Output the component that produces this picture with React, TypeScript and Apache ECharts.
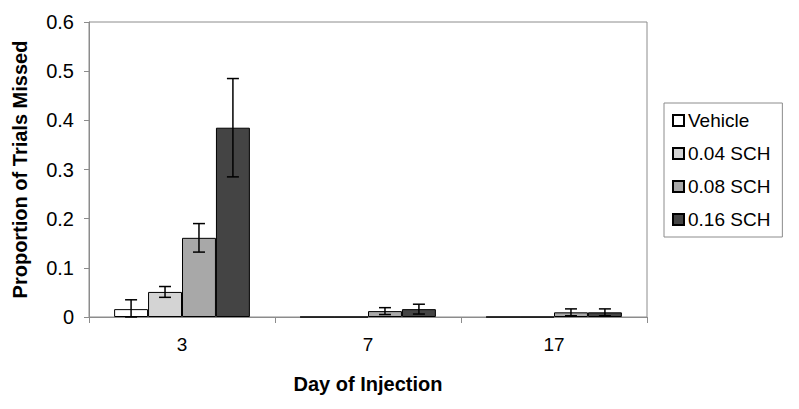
import React, { useEffect, useRef } from "react";
import * as echarts from "echarts";

const categories = ["3", "7", "17"];
const seriesNames = ["Vehicle", "0.04 SCH", "0.08 SCH", "0.16 SCH"];
const vehicle = [0.016, 0, 0];
const sch004 = [0.051, 0, 0];
const sch008 = [0.161, 0.012, 0.0095];
const sch016 = [0.385, 0.016, 0.0095];
const vehicleErr = [0.019, 0, 0];
const sch004Err = [0.011, 0, 0];
const sch008Err = [0.029, 0.007, 0.007];
const sch016Err = [0.1, 0.01, 0.007];
const yTicks = [0, 0.1, 0.2, 0.3, 0.4, 0.5, 0.6];
const colors = ["#ffffff", "#d4d4d4", "#a8a8a8", "#444444"];

const values = [vehicle, sch004, sch008, sch016];
const errors = [vehicleErr, sch004Err, sch008Err, sch016Err];

const CAT_GAP = 0.27;

export default function App() {
  const ref = useRef<HTMLDivElement>(null);
  useEffect(() => {
    if (!ref.current) return;
    const chart = echarts.init(ref.current, null, { renderer: "svg" });
    const barSeries = seriesNames.map((name, i) => ({
      name,
      type: "bar",
      data: values[i],
      barGap: "0%",
      barCategoryGap: CAT_GAP * 100 + "%",
      itemStyle: { color: colors[i], borderColor: "#000", borderWidth: 1 },
      emphasis: { disabled: true },
    }));
    const errSeries = seriesNames.map((name, i) => ({
      type: "custom",
      name: name + " err",
      data: categories.map((c, j) => [
        j,
        Math.max(0, values[i][j] - errors[i][j]),
        values[i][j] + errors[i][j],
      ]),
      z: 10,
      renderItem: (params: any, api: any) => {
        const err = api.value(2) - api.value(1);
        if (err <= 0) return null;
        const catW = api.size([1, 0])[0];
        const barW = (catW * (1 - CAT_GAP)) / 4;
        const center = api.coord([api.value(0), 0]);
        const x = center[0] + (i - 1.5) * barW;
        const lo = api.coord([api.value(0), api.value(1)])[1];
        const hi = api.coord([api.value(0), api.value(2)])[1];
        const cap = 6;
        const style = { stroke: "#000", lineWidth: 1.5 };
        return {
          type: "group",
          children: [
            { type: "line", shape: { x1: x, y1: lo, x2: x, y2: hi }, style },
            { type: "line", shape: { x1: x - cap, y1: hi, x2: x + cap, y2: hi }, style },
            { type: "line", shape: { x1: x - cap, y1: lo, x2: x + cap, y2: lo }, style },
          ],
        };
      },
    }));
    chart.setOption({
      animation: false,
      textStyle: { fontFamily: "Liberation Sans, Arial, sans-serif" },
      grid: {
        left: 89,
        right: 152,
        top: 22,
        bottom: 92,
        show: true,
        borderColor: "#8c8c8c",
        borderWidth: 1,
      },
      legend: {
        data: seriesNames,
        orient: "vertical",
        left: 664,
        top: 103,
        width: 121,
        padding: [8, 12, 8, 8],
        itemGap: 14,
        itemWidth: 11,
        itemHeight: 11,
        icon: "rect",
        borderColor: "#8c8c8c",
        borderWidth: 1,
        textStyle: { fontSize: 19, color: "#000", padding: [0, 0, 0, -1] },
      },
      xAxis: {
        type: "category",
        data: categories,
        name: "Day of Injection",
        nameLocation: "middle",
        nameGap: 57,
        nameTextStyle: { fontSize: 20, fontWeight: "bold", color: "#000" },
        axisLine: { lineStyle: { color: "#8c8c8c" } },
        axisTick: { show: true, length: 6, lineStyle: { color: "#8c8c8c" } },
        axisLabel: { fontSize: 19, color: "#000", margin: 18 },
      },
      yAxis: {
        type: "value",
        min: yTicks[0],
        max: yTicks[yTicks.length - 1],
        interval: 0.1,
        name: "Proportion of Trials Missed",
        nameLocation: "middle",
        nameGap: 59,
        nameTextStyle: { fontSize: 20, fontWeight: "bold", color: "#000" },
        axisLine: { show: true, lineStyle: { color: "#8c8c8c" } },
        axisTick: { show: true, length: 5, lineStyle: { color: "#8c8c8c" } },
        axisLabel: { fontSize: 20, color: "#000", margin: 15 },
        splitLine: { show: false },
      },
      series: [...barSeries, ...errSeries],
    });
    return () => chart.dispose();
  }, []);
  return (
    <div
      ref={ref}
      style={{ position: "absolute", left: 0, top: 0, width: 799, height: 409 }}
    />
  );
}
